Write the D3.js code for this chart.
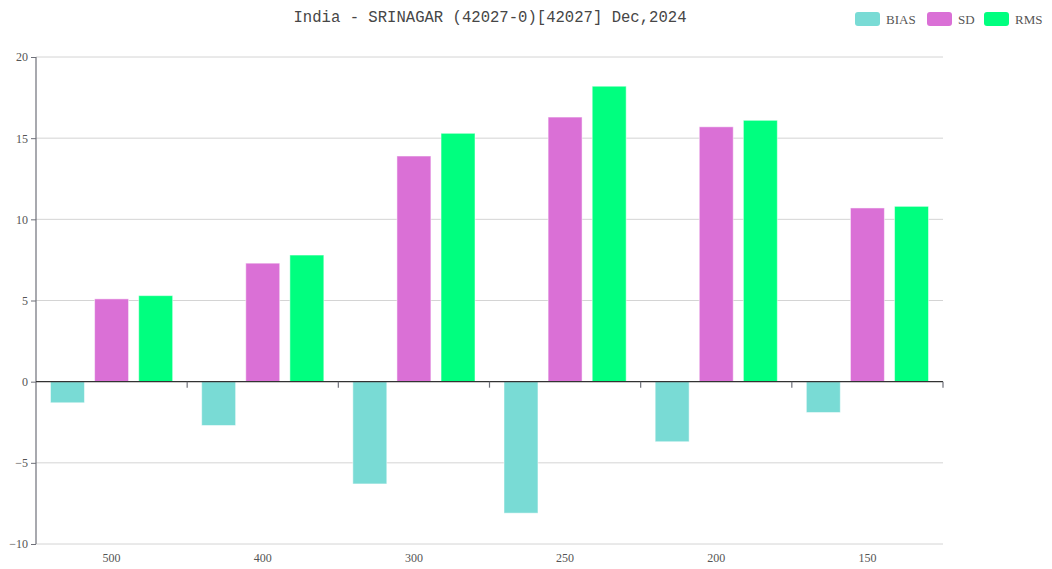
<!DOCTYPE html>
<html>
<head>
<meta charset="utf-8">
<script src="https://cdn.jsdelivr.net/npm/d3@7"></script>
<style>
  body { margin: 0; background: #fff; }
  text { font-family: "Liberation Mono", "DejaVu Sans Mono", monospace; }
</style>
</head>
<body>
<div id="chart"></div>
<script>
// chart data
var levels = ["500", "400", "300", "250", "200", "150"];
var seriesNames = ["BIAS", "SD", "RMS"];
var biasValues = [-1.3, -2.7, -6.3, -8.1, -3.7, -1.9];
var sdValues = [5.1, 7.3, 13.9, 16.3, 15.7, 10.7];
var rmsValues = [5.3, 7.8, 15.3, 18.2, 16.1, 10.8];
var yTicks = [-10, -5, 0, 5, 10, 15, 20];
var colors = ["#79dbd5", "#da70d6", "#00ff7f"];
var titleText = "India - SRINAGAR (42027-0)[42027] Dec,2024";

var svgWidth = 1052;
var svgHeight = 569;
var margin = { top: 57, right: 109, bottom: 25, left: 36 };
var width = svgWidth - margin.left - margin.right;
var height = svgHeight - margin.top - margin.bottom;

var svg = d3.select("#chart")
  .append("svg")
  .attr("width", svgWidth)
  .attr("height", svgHeight);

var chartGroup = svg.append("g")
  .attr("transform", `translate(${margin.left}, ${margin.top})`);

var allSeries = [biasValues, sdValues, rmsValues];

// scales
var x0 = d3.scaleBand().domain(levels).range([0, width]).paddingInner(0).paddingOuter(0);
var x1 = d3.scaleBand().domain(seriesNames).range([14.5, x0.bandwidth() - 14.5]).paddingInner(0.23).paddingOuter(0);
var y = d3.scaleLinear().domain([-10, 20]).range([height, 0]);

// grid lines
chartGroup.append("g")
  .selectAll("line")
  .data(yTicks.filter(d => d !== 0))
  .enter()
  .append("line")
  .attr("x1", 0)
  .attr("x2", width)
  .attr("y1", d => y(d))
  .attr("y2", d => y(d))
  .attr("stroke", "#d4d4d4")
  .attr("stroke-width", 1);

// bars
var groups = chartGroup.selectAll(".cat")
  .data(levels)
  .enter()
  .append("g")
  .attr("transform", d => `translate(${x0(d)}, 0)`);

groups.selectAll("rect")
  .data((d, i) => seriesNames.map((s, j) => ({ name: s, value: allSeries[j][i], idx: j })))
  .enter()
  .append("rect")
  .attr("x", d => x1(d.name))
  .attr("width", x1.bandwidth())
  .attr("y", d => y(Math.max(0, d.value)))
  .attr("height", d => Math.abs(y(d.value) - y(0)))
  .attr("fill", d => colors[d.idx])
  .attr("stroke", "rgba(255,255,255,0.5)")
  .attr("stroke-width", 1);

// left axis
var leftAxis = d3.axisLeft(y).tickValues(yTicks).tickSize(5).tickPadding(3);
var yAxisG = chartGroup.append("g").call(leftAxis);
yAxisG.select(".domain").attr("stroke", "#6e7079").attr("stroke-width", 1.2)
  .attr("d", `M0,0V${height}`);
yAxisG.selectAll(".tick line").attr("stroke", "#6e7079");
yAxisG.selectAll("text")
  .attr("fill", "#555")
  .style("font-size", "12px")
  .style("font-family", "Liberation Serif, serif")
  .text(d => d < 0 ? "\u2212" + Math.abs(d) : d);

// zero axis with category ticks
var bottomAxis = d3.axisBottom(x0).tickSize(0).tickFormat("");
var zeroAxis = chartGroup.append("g")
  .attr("transform", `translate(0, ${y(0)})`)
  .call(bottomAxis);
zeroAxis.select(".domain").attr("stroke", "#333").attr("stroke-width", 1.2)
  .attr("d", `M0,0H${width}`);
zeroAxis.selectAll(".sep")
  .data(levels)
  .enter()
  .append("line")
  .attr("class", "sep")
  .attr("x1", d => x0(d) + x0.bandwidth())
  .attr("x2", d => x0(d) + x0.bandwidth())
  .attr("y1", 0)
  .attr("y2", 6)
  .attr("stroke", "#6e7079")
  .attr("stroke-width", 1.2);

// category labels
chartGroup.append("g")
  .selectAll("text")
  .data(levels)
  .enter()
  .append("text")
  .attr("x", d => x0(d) + x0.bandwidth() / 2)
  .attr("y", height + 18)
  .attr("text-anchor", "middle")
  .attr("fill", "#555")
  .style("font-size", "12px")
  .style("font-family", "Liberation Serif, serif")
  .text(d => d);

// title
svg.append("text")
  .attr("x", 490)
  .attr("y", 22)
  .attr("text-anchor", "middle")
  .attr("fill", "#464646")
  .style("font-size", "15.6px")
  .text(titleText);

// legend
var legendX = [855, 927, 984];
var legend = svg.append("g");
seriesNames.forEach(function(name, i) {
  legend.append("rect")
    .attr("x", legendX[i])
    .attr("y", 12)
    .attr("width", 25)
    .attr("height", 14)
    .attr("rx", 3)
    .attr("fill", colors[i]);
  legend.append("text")
    .attr("x", legendX[i] + 31)
    .attr("y", 24)
    .attr("fill", "#555")
    .style("font-size", "13px")
    .style("font-family", "Liberation Serif, serif")
    .text(name);
});
</script>
</body>
</html>
